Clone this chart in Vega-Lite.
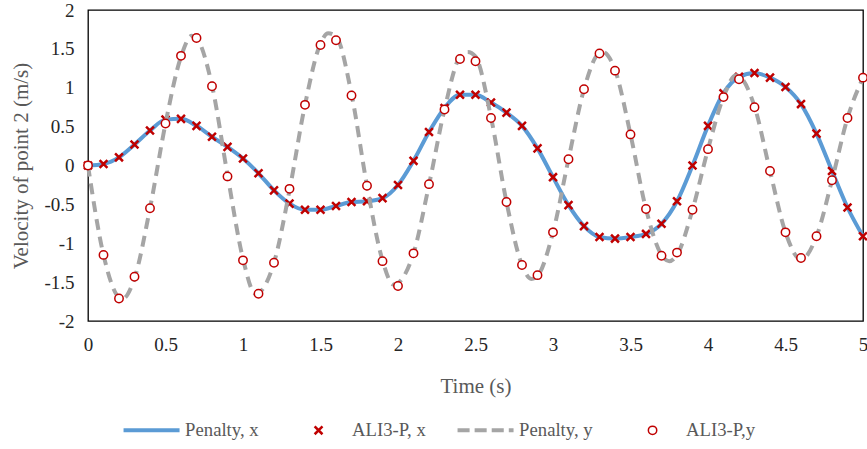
{
  "$schema": "https://vega.github.io/schema/vega-lite/v6.json",
  "autosize": "none",
  "width": 775,
  "height": 311,
  "padding": {"left": 88, "top": 10, "right": 4, "bottom": 128},
  "background": "white",
  "config": {
    "view": {"stroke": "#000000", "strokeWidth": 1.3},
    "font": "Liberation Serif",
    "axis": {"grid": false, "ticks": false, "domain": false, "labelFont": "Liberation Serif", "titleFont": "Liberation Serif", "labelColor": "#262626", "titleColor": "#595959", "labelFontSize": 19, "titleFontSize": 21, "titleFontWeight": "normal"}
  },
  "datasets": {
    "penx": [
      {"t": 0, "v": 0, "series": "Penalty, x"}, {"t": 0.1, "v": 0.02, "series": "Penalty, x"}, {"t": 0.2, "v": 0.105, "series": "Penalty, x"}, {"t": 0.3, "v": 0.27, "series": "Penalty, x"}, {"t": 0.4, "v": 0.45, "series": "Penalty, x"}, {"t": 0.5, "v": 0.59, "series": "Penalty, x"}, {"t": 0.6, "v": 0.6, "series": "Penalty, x"}, {"t": 0.7, "v": 0.51, "series": "Penalty, x"}, {"t": 0.8, "v": 0.37, "series": "Penalty, x"}, {"t": 0.9, "v": 0.24, "series": "Penalty, x"}, {"t": 1.0, "v": 0.09, "series": "Penalty, x"},
      {"t": 1.1, "v": -0.1, "series": "Penalty, x"}, {"t": 1.2, "v": -0.32, "series": "Penalty, x"}, {"t": 1.3, "v": -0.49, "series": "Penalty, x"}, {"t": 1.4, "v": -0.57, "series": "Penalty, x"}, {"t": 1.5, "v": -0.57, "series": "Penalty, x"}, {"t": 1.6, "v": -0.52, "series": "Penalty, x"}, {"t": 1.7, "v": -0.47, "series": "Penalty, x"}, {"t": 1.8, "v": -0.46, "series": "Penalty, x"}, {"t": 1.9, "v": -0.42, "series": "Penalty, x"}, {"t": 2.0, "v": -0.25, "series": "Penalty, x"},
      {"t": 2.1, "v": 0.06, "series": "Penalty, x"}, {"t": 2.2, "v": 0.43, "series": "Penalty, x"}, {"t": 2.3, "v": 0.74, "series": "Penalty, x"}, {"t": 2.4, "v": 0.91, "series": "Penalty, x"}, {"t": 2.5, "v": 0.91, "series": "Penalty, x"}, {"t": 2.6, "v": 0.81, "series": "Penalty, x"}, {"t": 2.7, "v": 0.68, "series": "Penalty, x"}, {"t": 2.8, "v": 0.51, "series": "Penalty, x"}, {"t": 2.9, "v": 0.22, "series": "Penalty, x"}, {"t": 3.0, "v": -0.15, "series": "Penalty, x"},
      {"t": 3.1, "v": -0.51, "series": "Penalty, x"}, {"t": 3.2, "v": -0.78, "series": "Penalty, x"}, {"t": 3.3, "v": -0.92, "series": "Penalty, x"}, {"t": 3.4, "v": -0.94, "series": "Penalty, x"}, {"t": 3.5, "v": -0.92, "series": "Penalty, x"}, {"t": 3.6, "v": -0.88, "series": "Penalty, x"}, {"t": 3.7, "v": -0.75, "series": "Penalty, x"}, {"t": 3.8, "v": -0.46, "series": "Penalty, x"}, {"t": 3.9, "v": 0.0, "series": "Penalty, x"}, {"t": 4.0, "v": 0.51, "series": "Penalty, x"},
      {"t": 4.1, "v": 0.93, "series": "Penalty, x"}, {"t": 4.2, "v": 1.14, "series": "Penalty, x"}, {"t": 4.3, "v": 1.19, "series": "Penalty, x"}, {"t": 4.4, "v": 1.13, "series": "Penalty, x"}, {"t": 4.5, "v": 1.01, "series": "Penalty, x"}, {"t": 4.6, "v": 0.79, "series": "Penalty, x"}, {"t": 4.7, "v": 0.41, "series": "Penalty, x"}, {"t": 4.8, "v": -0.07, "series": "Penalty, x"}, {"t": 4.9, "v": -0.54, "series": "Penalty, x"}, {"t": 5.0, "v": -0.91, "series": "Penalty, x"}
    ],
    "alix": [
      {"t": 0, "v": 0, "series": "ALI3-P, x"}, {"t": 0.1, "v": 0.02, "series": "ALI3-P, x"}, {"t": 0.2, "v": 0.105, "series": "ALI3-P, x"}, {"t": 0.3, "v": 0.27, "series": "ALI3-P, x"}, {"t": 0.4, "v": 0.45, "series": "ALI3-P, x"}, {"t": 0.5, "v": 0.59, "series": "ALI3-P, x"}, {"t": 0.6, "v": 0.6, "series": "ALI3-P, x"}, {"t": 0.7, "v": 0.51, "series": "ALI3-P, x"}, {"t": 0.8, "v": 0.37, "series": "ALI3-P, x"}, {"t": 0.9, "v": 0.24, "series": "ALI3-P, x"}, {"t": 1.0, "v": 0.09, "series": "ALI3-P, x"},
      {"t": 1.1, "v": -0.1, "series": "ALI3-P, x"}, {"t": 1.2, "v": -0.32, "series": "ALI3-P, x"}, {"t": 1.3, "v": -0.49, "series": "ALI3-P, x"}, {"t": 1.4, "v": -0.57, "series": "ALI3-P, x"}, {"t": 1.5, "v": -0.57, "series": "ALI3-P, x"}, {"t": 1.6, "v": -0.52, "series": "ALI3-P, x"}, {"t": 1.7, "v": -0.47, "series": "ALI3-P, x"}, {"t": 1.8, "v": -0.46, "series": "ALI3-P, x"}, {"t": 1.9, "v": -0.42, "series": "ALI3-P, x"}, {"t": 2.0, "v": -0.25, "series": "ALI3-P, x"},
      {"t": 2.1, "v": 0.06, "series": "ALI3-P, x"}, {"t": 2.2, "v": 0.43, "series": "ALI3-P, x"}, {"t": 2.3, "v": 0.74, "series": "ALI3-P, x"}, {"t": 2.4, "v": 0.91, "series": "ALI3-P, x"}, {"t": 2.5, "v": 0.91, "series": "ALI3-P, x"}, {"t": 2.6, "v": 0.81, "series": "ALI3-P, x"}, {"t": 2.7, "v": 0.68, "series": "ALI3-P, x"}, {"t": 2.8, "v": 0.51, "series": "ALI3-P, x"}, {"t": 2.9, "v": 0.22, "series": "ALI3-P, x"}, {"t": 3.0, "v": -0.15, "series": "ALI3-P, x"},
      {"t": 3.1, "v": -0.51, "series": "ALI3-P, x"}, {"t": 3.2, "v": -0.78, "series": "ALI3-P, x"}, {"t": 3.3, "v": -0.92, "series": "ALI3-P, x"}, {"t": 3.4, "v": -0.94, "series": "ALI3-P, x"}, {"t": 3.5, "v": -0.92, "series": "ALI3-P, x"}, {"t": 3.6, "v": -0.88, "series": "ALI3-P, x"}, {"t": 3.7, "v": -0.75, "series": "ALI3-P, x"}, {"t": 3.8, "v": -0.46, "series": "ALI3-P, x"}, {"t": 3.9, "v": 0.0, "series": "ALI3-P, x"}, {"t": 4.0, "v": 0.51, "series": "ALI3-P, x"},
      {"t": 4.1, "v": 0.93, "series": "ALI3-P, x"}, {"t": 4.2, "v": 1.14, "series": "ALI3-P, x"}, {"t": 4.3, "v": 1.19, "series": "ALI3-P, x"}, {"t": 4.4, "v": 1.13, "series": "ALI3-P, x"}, {"t": 4.5, "v": 1.01, "series": "ALI3-P, x"}, {"t": 4.6, "v": 0.79, "series": "ALI3-P, x"}, {"t": 4.7, "v": 0.41, "series": "ALI3-P, x"}, {"t": 4.8, "v": -0.07, "series": "ALI3-P, x"}, {"t": 4.9, "v": -0.54, "series": "ALI3-P, x"}, {"t": 5.0, "v": -0.91, "series": "ALI3-P, x"}
    ],
    "peny": [
      {"t": 0, "v": 0, "series": "Penalty, y"}, {"t": 0.1, "v": -1.15, "series": "Penalty, y"}, {"t": 0.2, "v": -1.7, "series": "Penalty, y"}, {"t": 0.22, "v": -1.72, "series": "Penalty, y"}, {"t": 0.3, "v": -1.45, "series": "Penalty, y"}, {"t": 0.4, "v": -0.55, "series": "Penalty, y"}, {"t": 0.5, "v": 0.54, "series": "Penalty, y"}, {"t": 0.6, "v": 1.4, "series": "Penalty, y"}, {"t": 0.67, "v": 1.67, "series": "Penalty, y"}, {"t": 0.7, "v": 1.64, "series": "Penalty, y"}, {"t": 0.8, "v": 1.03, "series": "Penalty, y"}, {"t": 0.9, "v": -0.12, "series": "Penalty, y"}, {"t": 1.0, "v": -1.2, "series": "Penalty, y"},
      {"t": 1.08, "v": -1.65, "series": "Penalty, y"}, {"t": 1.1, "v": -1.64, "series": "Penalty, y"}, {"t": 1.2, "v": -1.25, "series": "Penalty, y"}, {"t": 1.3, "v": -0.32, "series": "Penalty, y"}, {"t": 1.4, "v": 0.78, "series": "Penalty, y"}, {"t": 1.5, "v": 1.57, "series": "Penalty, y"}, {"t": 1.55, "v": 1.7, "series": "Penalty, y"}, {"t": 1.6, "v": 1.66, "series": "Penalty, y"}, {"t": 1.7, "v": 0.92, "series": "Penalty, y"}, {"t": 1.8, "v": -0.26, "series": "Penalty, y"}, {"t": 1.9, "v": -1.22, "series": "Penalty, y"}, {"t": 1.97, "v": -1.53, "series": "Penalty, y"}, {"t": 2.0, "v": -1.51, "series": "Penalty, y"},
      {"t": 2.1, "v": -1.13, "series": "Penalty, y"}, {"t": 2.2, "v": -0.25, "series": "Penalty, y"}, {"t": 2.3, "v": 0.72, "series": "Penalty, y"}, {"t": 2.4, "v": 1.4, "series": "Penalty, y"}, {"t": 2.45, "v": 1.46, "series": "Penalty, y"}, {"t": 2.5, "v": 1.4, "series": "Penalty, y"}, {"t": 2.6, "v": 0.62, "series": "Penalty, y"}, {"t": 2.7, "v": -0.47, "series": "Penalty, y"}, {"t": 2.8, "v": -1.28, "series": "Penalty, y"}, {"t": 2.86, "v": -1.46, "series": "Penalty, y"}, {"t": 2.9, "v": -1.42, "series": "Penalty, y"}, {"t": 3.0, "v": -0.86, "series": "Penalty, y"},
      {"t": 3.1, "v": 0.08, "series": "Penalty, y"}, {"t": 3.2, "v": 0.98, "series": "Penalty, y"}, {"t": 3.3, "v": 1.45, "series": "Penalty, y"}, {"t": 3.32, "v": 1.46, "series": "Penalty, y"}, {"t": 3.4, "v": 1.23, "series": "Penalty, y"}, {"t": 3.5, "v": 0.4, "series": "Penalty, y"}, {"t": 3.6, "v": -0.56, "series": "Penalty, y"}, {"t": 3.7, "v": -1.15, "series": "Penalty, y"}, {"t": 3.75, "v": -1.23, "series": "Penalty, y"}, {"t": 3.8, "v": -1.15, "series": "Penalty, y"}, {"t": 3.9, "v": -0.57, "series": "Penalty, y"}, {"t": 4.0, "v": 0.21, "series": "Penalty, y"},
      {"t": 4.1, "v": 0.88, "series": "Penalty, y"}, {"t": 4.18, "v": 1.16, "series": "Penalty, y"}, {"t": 4.2, "v": 1.15, "series": "Penalty, y"}, {"t": 4.3, "v": 0.76, "series": "Penalty, y"}, {"t": 4.4, "v": -0.07, "series": "Penalty, y"}, {"t": 4.5, "v": -0.86, "series": "Penalty, y"}, {"t": 4.6, "v": -1.21, "series": "Penalty, y"}, {"t": 4.7, "v": -0.91, "series": "Penalty, y"}, {"t": 4.8, "v": -0.19, "series": "Penalty, y"}, {"t": 4.9, "v": 0.61, "series": "Penalty, y"}, {"t": 5.0, "v": 1.13, "series": "Penalty, y"}
    ],
    "aliy": [
      {"t": 0, "v": 0, "series": "ALI3-P,y"}, {"t": 0.1, "v": -1.15, "series": "ALI3-P,y"}, {"t": 0.2, "v": -1.71, "series": "ALI3-P,y"}, {"t": 0.3, "v": -1.43, "series": "ALI3-P,y"}, {"t": 0.4, "v": -0.55, "series": "ALI3-P,y"}, {"t": 0.5, "v": 0.54, "series": "ALI3-P,y"}, {"t": 0.6, "v": 1.41, "series": "ALI3-P,y"}, {"t": 0.7, "v": 1.64, "series": "ALI3-P,y"}, {"t": 0.8, "v": 1.02, "series": "ALI3-P,y"}, {"t": 0.9, "v": -0.14, "series": "ALI3-P,y"}, {"t": 1.0, "v": -1.22, "series": "ALI3-P,y"},
      {"t": 1.1, "v": -1.65, "series": "ALI3-P,y"}, {"t": 1.2, "v": -1.25, "series": "ALI3-P,y"}, {"t": 1.3, "v": -0.3, "series": "ALI3-P,y"}, {"t": 1.4, "v": 0.78, "series": "ALI3-P,y"}, {"t": 1.5, "v": 1.55, "series": "ALI3-P,y"}, {"t": 1.6, "v": 1.61, "series": "ALI3-P,y"}, {"t": 1.7, "v": 0.9, "series": "ALI3-P,y"}, {"t": 1.8, "v": -0.26, "series": "ALI3-P,y"}, {"t": 1.9, "v": -1.23, "series": "ALI3-P,y"}, {"t": 2.0, "v": -1.55, "series": "ALI3-P,y"},
      {"t": 2.1, "v": -1.13, "series": "ALI3-P,y"}, {"t": 2.2, "v": -0.24, "series": "ALI3-P,y"}, {"t": 2.3, "v": 0.72, "series": "ALI3-P,y"}, {"t": 2.4, "v": 1.37, "series": "ALI3-P,y"}, {"t": 2.5, "v": 1.34, "series": "ALI3-P,y"}, {"t": 2.6, "v": 0.61, "series": "ALI3-P,y"}, {"t": 2.7, "v": -0.47, "series": "ALI3-P,y"}, {"t": 2.8, "v": -1.28, "series": "ALI3-P,y"}, {"t": 2.9, "v": -1.41, "series": "ALI3-P,y"}, {"t": 3.0, "v": -0.86, "series": "ALI3-P,y"},
      {"t": 3.1, "v": 0.08, "series": "ALI3-P,y"}, {"t": 3.2, "v": 0.98, "series": "ALI3-P,y"}, {"t": 3.3, "v": 1.44, "series": "ALI3-P,y"}, {"t": 3.4, "v": 1.22, "series": "ALI3-P,y"}, {"t": 3.5, "v": 0.4, "series": "ALI3-P,y"}, {"t": 3.6, "v": -0.56, "series": "ALI3-P,y"}, {"t": 3.7, "v": -1.16, "series": "ALI3-P,y"}, {"t": 3.8, "v": -1.12, "series": "ALI3-P,y"}, {"t": 3.9, "v": -0.57, "series": "ALI3-P,y"}, {"t": 4.0, "v": 0.21, "series": "ALI3-P,y"},
      {"t": 4.1, "v": 0.88, "series": "ALI3-P,y"}, {"t": 4.2, "v": 1.11, "series": "ALI3-P,y"}, {"t": 4.3, "v": 0.75, "series": "ALI3-P,y"}, {"t": 4.4, "v": -0.07, "series": "ALI3-P,y"}, {"t": 4.5, "v": -0.86, "series": "ALI3-P,y"}, {"t": 4.6, "v": -1.19, "series": "ALI3-P,y"}, {"t": 4.7, "v": -0.91, "series": "ALI3-P,y"}, {"t": 4.8, "v": -0.19, "series": "ALI3-P,y"}, {"t": 4.9, "v": 0.61, "series": "ALI3-P,y"}, {"t": 5.0, "v": 1.13, "series": "ALI3-P,y"}
    ]
  },
  "encoding": {
    "x": {"field": "t", "type": "quantitative", "scale": {"domain": [0, 5], "nice": false, "zero": false}, "axis": {"title": "Time (s)", "format": "~g", "values": [0, 0.5, 1, 1.5, 2, 2.5, 3, 3.5, 4, 4.5, 5], "labelPadding": 14, "titlePadding": 21, "labelFlush": false}},
    "y": {"field": "v", "type": "quantitative", "scale": {"domain": [-2, 2], "nice": false}, "axis": {"title": "Velocity of point 2 (m/s)", "format": "~g", "values": [-2, -1.5, -1, -0.5, 0, 0.5, 1, 1.5, 2], "labelPadding": 14, "titlePadding": 12, "labelFlush": false, "labelExpr": "replace(datum.label, '\u2212', '-')"}},
    "color": {"field": "series", "type": "nominal", "scale": {"domain": ["Penalty, x", "ALI3-P, x", "Penalty, y", "ALI3-P,y"], "range": ["#5B9BD5", "#C00000", "#A5A5A5", "#C00000"]},
      "legend": {"title": null, "orient": "none", "legendX": 54.2, "legendY": 410.5, "direction": "horizontal", "columns": 4, "gridAlign": "all", "columnPadding": 23, "padding": 0, "labelOffset": 24.2, "labelFont": "Liberation Serif", "labelFontSize": 18.7, "labelColor": "#595959", "labelLimit": 200,
        "encode": {"symbols": {"update": {"size": {"value": 3136}, "strokeWidth": {"signal": "datum.value === 'Penalty, x' || datum.value === 'Penalty, y' ? 4 : (datum.value === 'ALI3-P, x' ? 2.5 : 1.5)"}, "fill": {"value": "transparent"}, "stroke": {"scale": "color", "field": "value"}, "opacity": {"value": 1}, "strokeCap": {"value": "butt"}}}}}
    }
  },
  "layer": [
    {"data": {"name": "penx"}, "mark": {"type": "line", "interpolate": "monotone", "strokeWidth": 4}},
    {"data": {"name": "alix"}, "mark": {"type": "point", "filled": false, "strokeWidth": 2.5, "size": 3136, "opacity": 1},
      "encoding": {"shape": {"field": "series", "type": "nominal", "scale": {"domain": ["Penalty, x", "ALI3-P, x", "Penalty, y", "ALI3-P,y"], "range": ["M-1,0L1,0", "M-0.14,-0.14L0.14,0.14M-0.14,0.14L0.14,-0.14", "M-1,0L-0.57,0M-0.39,0L0.04,0M0.22,0L0.65,0M0.83,0L1,0", "M0.15,0A0.15,0.15 0 1,1 -0.15,0A0.15,0.15 0 1,1 0.15,0Z"]}}}},
    {"data": {"name": "peny"}, "mark": {"type": "line", "interpolate": "monotone", "strokeWidth": 4, "strokeDash": [11, 7]}},
    {"data": {"name": "aliy"}, "mark": {"type": "point", "filled": false, "fill": "white", "strokeWidth": 1.5, "size": 3136, "opacity": 1},
      "encoding": {"shape": {"field": "series", "type": "nominal"}}}
  ]
}
